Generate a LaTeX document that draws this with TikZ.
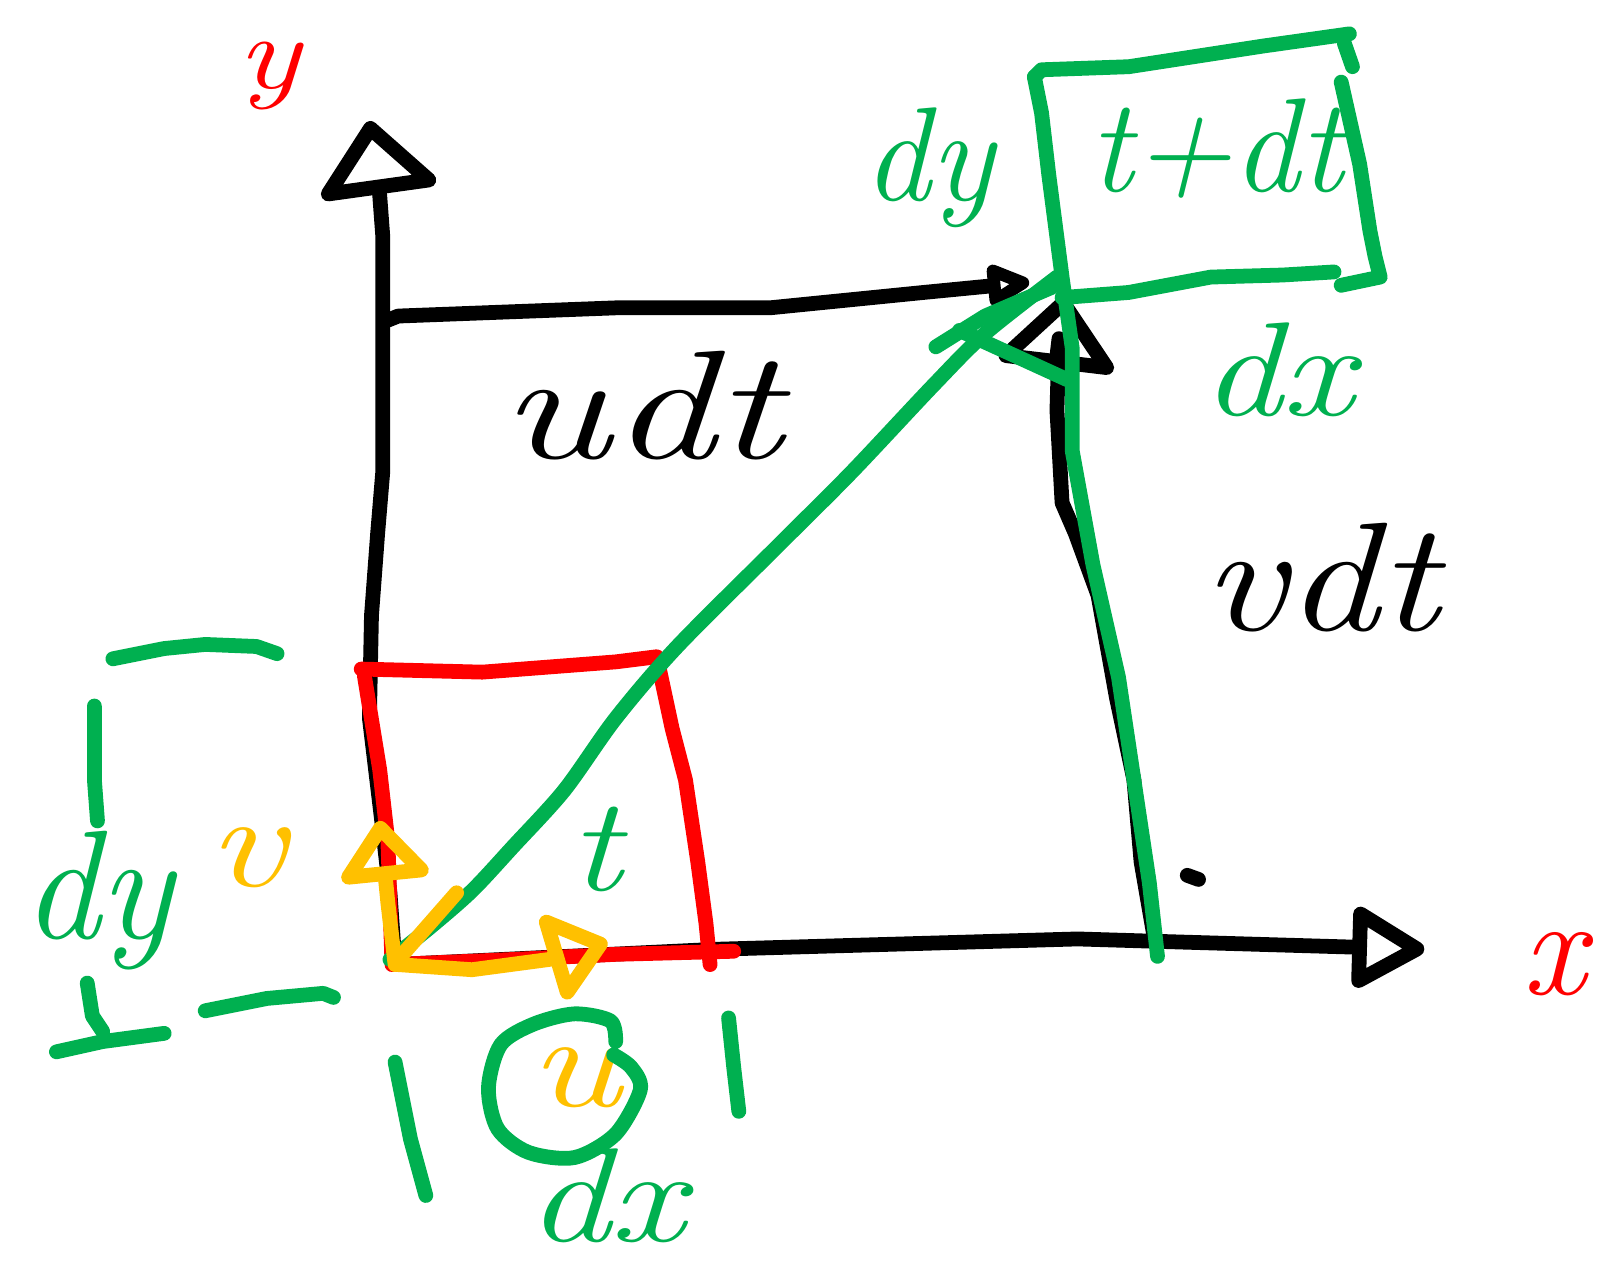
\documentclass[tikz,border=0pt]{standalone}
\usepackage{fontspec}
\usepackage{graphicx}
\usetikzlibrary{arrows.meta, positioning, calc}

\definecolor{inkgreen}{HTML}{00B050}
\definecolor{inkred}{HTML}{FF0000}
\definecolor{inkyellow}{HTML}{FFC000}

% stretch a handwritten word sideways
\newcommand{\widen}[2][1.35]{\scalebox{#1}[1]{#2}}

\begin{document}
\begin{tikzpicture}[
    x=0.01026cm, y=-0.01026cm,
    line cap=round, line join=round,
    % Marker stroke
    inkline/.style={line width=4.2pt},
    % Hand-drawn open arrow heads
    bighead/.style={-{Triangle[open, round, length=7.8mm, width=13mm]}},
    axishead/.style={-{Triangle[open, round, length=8mm, width=8.8mm]}},
    smallhead/.style={-{Triangle[open, round, length=5mm, width=4.6mm]}},
    yellowhead/.style={-{Triangle[open, round, length=6.5mm, width=10mm]}},
    % Handwritten label
    scrawl/.style={inner sep=0pt, font=\fontsize{44}{48}\selectfont\itshape},
    smallscrawl/.style={inner sep=0pt, font=\fontsize{38}{42}\selectfont\itshape}
]
    \useasboundingbox (0,0) rectangle (1568,1246);

    % =========================================================================
    % Key points
    % =========================================================================
    \coordinate (O) at (385,940);
    \coordinate (ytip) at (360,118);
    \coordinate (xtip) at (1388,925);
    \coordinate (utip) at (1003,275);
    \coordinate (vtip) at (1037,288);
    \coordinate (P) at (1030,270);

    % =========================================================================
    % Axes
    % =========================================================================
    \draw[inkline, bighead] (O) -- (380,870) -- (372,800) -- (360,700) -- (362,600)
        -- (368,520) -- (373,460) -- (373,230) -- (370,190) -- (ytip);
    \draw[inkline, axishead] (O) -- (700,925) -- (1050,915) -- (1150,918) -- (xtip);
    \draw[inkline] (1157,853) -- (1168,857);

    \node[inkred, inner sep=0pt, anchor=base, font=\fontsize{30}{34}\selectfont\itshape]
        (ylabel) at (262,86) {\widen[1.25]{y}};
    \node[inkred, inner sep=0pt, font=\fontsize{40}{44}\selectfont\itshape]
        (xlabel) at (1515,940) {x};

    % =========================================================================
    % Displacements u dt and v dt
    % =========================================================================
    \draw[inkline, smallhead] (378,312) -- (388,308) -- (600,300) -- (750,300)
        -- (900,285) -- (utip);
    \draw[inkline, bighead] (1125,915) -- (1112,840) -- (1105,760) -- (1088,680)
        -- (1070,580) -- (1048,520) -- (1035,490) -- (1030,400) -- (1032,330) -- (vtip);

    \node[scrawl] (udt) at (625,395) {\widen{udt}};
    \node[scrawl] (vdt) at (1287,563) {\widen[1.2]{vdt}};

    % =========================================================================
    % Red cell at time t
    % =========================================================================
    \draw[inkline, inkred] (352,652) -- (470,655) -- (600,645) -- (640,640)
        -- (655,710) -- (668,760) -- (680,840) -- (688,900) -- (692,940);
    \draw[inkline, inkred] (355,658) -- (370,750) -- (378,820) -- (382,940)
        -- (500,935) -- (600,930) -- (715,927);

    % =========================================================================
    % Green path, cell at t+dt and spans
    % =========================================================================
    \draw[inkline, inkgreen] plot[smooth] coordinates {(380,935) (420,903) (460,868)
        (500,825) (550,770) (600,700) (660,630) (760,530) (830,460)
        (910,375) (960,325) (P)};
    \draw[inkline, inkgreen] (912,338) -- (960,308) -- (1025,280);
    \draw[inkline, inkgreen] (935,322) -- (1040,370);

    \draw[inkline, inkgreen] (1008,75) -- (1015,110) -- (1022,170) -- (1035,270)
        -- (1045,340) -- (1045,440) -- (1065,550) -- (1090,660) -- (1105,760)
        -- (1120,860) -- (1128,932);
    \draw[inkline, inkgreen] (1008,75) -- (1015,68) -- (1100,65) -- (1230,45) -- (1315,33);
    \draw[inkline, inkgreen] (1310,42) -- (1318,65);
    \draw[inkline, inkgreen] (1307,80) -- (1325,160) -- (1335,225) -- (1340,250)
        -- (1345,270) -- (1307,278);
    \draw[inkline, inkgreen] (1035,290) -- (1100,285) -- (1180,270) -- (1250,268) -- (1300,265);

    \node[smallscrawl, inkgreen] (dytop) at (905,163) {dy};
    \node[smallscrawl, inkgreen] (tdt) at (1185,145) {t+dt};
    \node[smallscrawl, inkgreen] (dxtop) at (1245,360) {\widen[1.2]{dx}};
    \node[smallscrawl, inkgreen] (tlabel) at (580,828) {\widen[1.2]{t}};

    % =========================================================================
    % Velocity components (yellow)
    % =========================================================================
    \draw[inkline, inkyellow] (388,935) -- (445,870);
    \draw[inkline, inkyellow, yellowhead] (O) -- (378,880) -- (370,800);
    \draw[inkline, inkyellow, yellowhead] (388,940) -- (460,945) -- (535,935) -- (592,918);

    \node[smallscrawl, inkyellow] (vlabel) at (240,836) {\widen[1.3]{v}};
    \node[smallscrawl, inkyellow] (ulabel) at (560,1050) {\widen[1.3]{u}};

    % =========================================================================
    % Spans dy (left) and dx (below)
    % =========================================================================
    \draw[inkline, inkgreen] plot[smooth] coordinates {(600,1015) (595,995) (560,988)
        (520,998) (488,1018) (476,1060) (485,1100) (515,1123) (560,1128)
        (600,1105) (624,1062) (615,1040) (598,1028)};
    \node[inner sep=0pt, anchor=base, inkgreen, font=\fontsize{38}{42}\selectfont\itshape]
        (dxlow) at (590,1210) {\widen[1.25]{dx}};

    \draw[inkline, inkgreen] (385,1035) -- (400,1110) -- (415,1165);
    \draw[inkline, inkgreen] (710,992) -- (715,1040) -- (720,1083);

    \draw[inkline, inkgreen] (110,642) -- (160,632) -- (200,628) -- (250,630) -- (270,637);
    \draw[inkline, inkgreen] (92,688) -- (92,760) -- (95,800);
    \draw[inkline, inkgreen] (85,958) -- (90,990) -- (100,1005);
    \draw[inkline, inkgreen] (55,1025) -- (100,1015) -- (160,1007);
    \draw[inkline, inkgreen] (200,985) -- (260,973) -- (315,968) -- (325,972);
    \node[scrawl, inkgreen] (dyleft) at (95,878) {dy};

\end{tikzpicture}
\end{document}
